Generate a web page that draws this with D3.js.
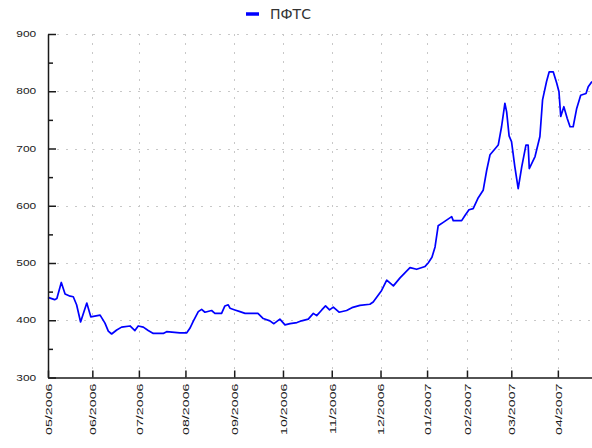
<!DOCTYPE html>
<html>
<head>
<meta charset="utf-8">
<script src="https://cdn.jsdelivr.net/npm/d3@7"></script>
<style>
  html, body { margin: 0; padding: 0; background: #fff; overflow: hidden; }
  svg { display: block; font-family: "DejaVu Sans", sans-serif; }
</style>
</head>
<body>
<div id="chart"></div>
<script>
// ПФТС index, one point per reading; x is the trading session number counted from 1 May 2006
const seriesName = "ПФТС";

const sessions = [
  0, 3, 4, 6, 7.7, 10, 11.4, 12.9, 14.7, 17.5, 19.3, 23.5, 25.7, 27.2, 28.7, 31, 33.2, 37,
  39.2, 40.7, 43, 45.2, 47.5, 52, 53.5, 59.5, 62.6, 64, 65.5, 67.8, 69.3, 70.8, 73.8, 75.3,
  78.3, 79.8, 81.3, 82.1, 84.3, 86.6, 88.9, 94.7, 97.1, 100.1, 101.9, 104.6, 106.9, 109.2,
  112.3, 114.4, 117.4, 119.7, 121.2, 123.5, 125.2, 127, 128.7, 131.3, 134.7, 137.1, 140.7,
  145.2, 146.7, 150.5, 152.8, 155.8, 158.8, 163.3, 166.3, 170.1, 171.5, 173.2, 174.6, 176,
  178.3, 182.1, 182.8, 186.6, 188.1, 189.9, 191.8, 194.1, 196.3, 197.9, 199.4, 203.1, 204.6,
  206.1, 206.9, 208, 209.1, 210.6, 212.1, 213.7, 215.6, 216.6, 217.1, 219.7, 221.9, 223.1,
  224.9, 226.1, 227.9, 229.5, 230.5, 231.3, 232.7, 234.2, 235.5, 236.9, 238.5, 240.3, 242.7,
  243.7, 245.4
];

const values = [
  440, 436, 438, 466, 446, 442, 441, 427, 397, 430, 406, 409, 395, 381, 376, 383, 388, 390,
  382, 390, 388, 382, 377, 377, 380, 378, 378, 386, 398, 415, 419, 414, 417, 412,
  412, 425, 427, 421, 418, 415, 412, 412, 403, 399, 394, 402, 392, 394,
  396, 399, 402, 412, 408, 418, 425, 418, 423, 414, 417, 422, 426,
  428, 432, 452, 470, 460, 474, 492, 489, 494, 500, 510, 528, 565,
  571, 581, 574, 574, 583, 593, 595, 614, 627, 662, 689, 706, 738,
  779, 764, 722, 712, 668, 630, 668, 706, 706, 665, 686, 721, 785,
  817, 834, 834, 814, 799, 756, 773, 753, 738, 738, 770, 793, 796,
  808, 817
];

// first session of each month and its label
const monthStarts = [0, 20, 41, 62, 84, 106, 128, 150, 171, 189, 209, 230];
const monthLabels = [
  "05/2006", "06/2006", "07/2006", "08/2006", "09/2006", "10/2006",
  "11/2006", "12/2006", "01/2007", "02/2007", "03/2007", "04/2007"
];

const yMajorTicks = [300, 400, 500, 600, 700, 800, 900];
const yMinorTicks = [350, 450, 550, 650, 750, 850];

const width = 592;
const height = 448;
const margin = { top: 34, left: 48, bottom: 70.5 };
const lastSession = 245.4;

const data = sessions.map((s, i) => ({ s: s, v: values[i] }));

const svg = d3.select("#chart").append("svg")
  .attr("width", width)
  .attr("height", height);

const x = d3.scaleLinear()
  .domain([0, lastSession])
  .range([margin.left, width]);

const y = d3.scaleLinear()
  .domain([300, 900])
  .range([height - margin.bottom, margin.top]);

// grid
const grid = svg.append("g")
  .attr("stroke", "#c8c8c8")
  .attr("stroke-width", 1)
  .attr("stroke-dasharray", "2,7");

grid.selectAll(".hgrid")
  .data(yMajorTicks.filter(d => d > 300))
  .join("line")
  .attr("x1", margin.left)
  .attr("x2", width)
  .attr("y1", d => Math.round(y(d)) + 0.5)
  .attr("y2", d => Math.round(y(d)) + 0.5);

grid.selectAll(".vgrid")
  .data(monthStarts.filter(d => d > 0))
  .join("line")
  .attr("x1", d => Math.round(x(d)) + 0.5)
  .attr("x2", d => Math.round(x(d)) + 0.5)
  .attr("y1", y(900))
  .attr("y2", y(300));

// line
svg.append("path")
  .datum(data)
  .attr("fill", "none")
  .attr("stroke", "#0000ff")
  .attr("stroke-width", 1.7)
  .attr("stroke-linejoin", "round")
  .attr("d", d3.line().x(d => x(d.s)).y(d => y(d.v)));

// y axis
const yScaleX = 1.4;
const yAxis = svg.append("g")
  .attr("transform", `translate(${margin.left},0)`)
  .call(d3.axisLeft(y).tickValues(yMajorTicks).tickSize(-8).tickSizeOuter(0).tickPadding(8.5));

svg.append("g")
  .attr("transform", `translate(${margin.left},0)`)
  .call(d3.axisLeft(y).tickValues(yMinorTicks).tickSize(-5).tickFormat(""))
  .call(g => g.select(".domain").remove());

// x axis
const xScaleX = 1.5;
const xAxis = svg.append("g")
  .attr("transform", `translate(0,${y(300)})`)
  .call(d3.axisBottom(x)
    .tickValues(monthStarts)
    .tickSize(-7)
    .tickSizeOuter(0)
    .tickFormat((d, i) => monthLabels[i]));

svg.selectAll(".domain, .tick line")
  .attr("stroke", "#1a1a1a")
  .attr("stroke-width", 1.5);

yAxis.selectAll("text")
  .attr("fill", "#1a1a1a")
  .style("font-size", "8.5px")
  .attr("transform", `scale(${yScaleX},1)`);

xAxis.selectAll("text")
  .attr("fill", "#1a1a1a")
  .style("font-size", "9.5px")
  .attr("text-anchor", "end")
  .attr("x", -4)
  .attr("y", 0)
  .attr("dy", "0.35em")
  .attr("transform", `rotate(-90) scale(${xScaleX},1)`);

// legend
const legend = svg.append("g").attr("transform", "translate(246,14)");
legend.append("line")
  .attr("x1", 0).attr("x2", 13)
  .attr("stroke", "#0000ff")
  .attr("stroke-width", 3.5);
legend.append("text")
  .attr("x", 24)
  .attr("dy", "0.36em")
  .attr("fill", "#333")
  .style("font-size", "14px")
  .text(seriesName);
</script>
</body>
</html>
